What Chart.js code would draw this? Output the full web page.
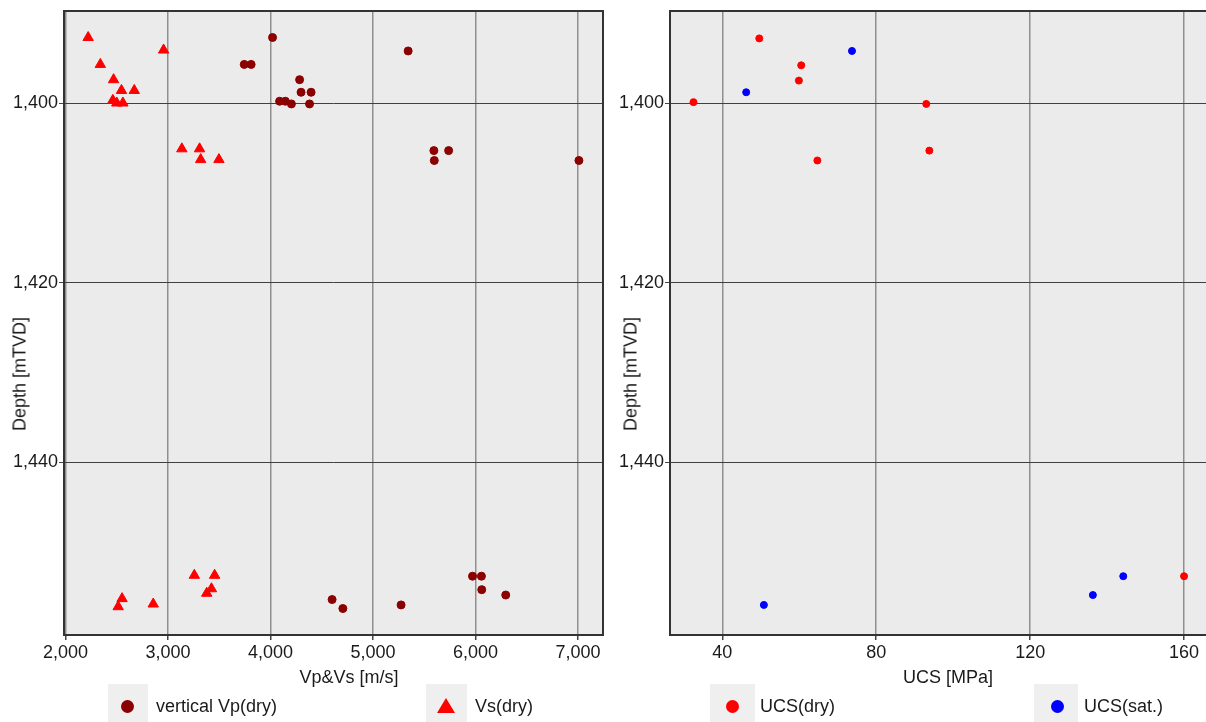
<!DOCTYPE html>
<html>
<head>
<meta charset="utf-8">
<script src="https://cdn.jsdelivr.net/npm/chart.js@4.4.1/dist/chart.umd.min.js"></script>
<style>
  html, body { margin: 0; padding: 0; background: #fff; overflow: hidden; width: 1206px; height: 722px; }
  body { position: relative; font-family: "Liberation Sans", Arial, sans-serif; color: #1a1a1a; }
  .box { position: absolute; }
  .ytitle { position: absolute; font-size: 18px; transform: translate(-50%, -50%) rotate(-90deg); white-space: nowrap; }
  .xtitle { position: absolute; font-size: 18px; transform: translate(-50%, -50%); white-space: nowrap; }
  .lgbox { position: absolute; top: 684px; height: 40px; background: #efefef; }
  .lgtext { position: absolute; font-size: 18px; top: 706px; transform: translateY(-50%); white-space: nowrap; }
  .dot { position: absolute; width: 13px; height: 13px; border-radius: 50%; top: 700px; }
  .tri { position: absolute; width: 0; height: 0; border-left: 9px solid transparent; border-right: 9px solid transparent; border-bottom: 15px solid #ff0000; top: 698px; }
</style>
</head>
<body>
<div class="box" style="left:0;top:0;width:606px;height:722px;"><canvas id="vel"></canvas></div>
<div class="box" style="left:606px;top:0;width:625px;height:722px;"><canvas id="ucs"></canvas></div>

<div class="ytitle" style="left:20px;top:374px;">Depth [mTVD]</div>
<div class="ytitle" style="left:631px;top:374px;">Depth [mTVD]</div>
<div class="xtitle" style="left:349px;top:677px;">Vp&amp;Vs [m/s]</div>
<div class="xtitle" style="left:948px;top:677px;">UCS [MPa]</div>

<div class="lgbox" style="left:108px;width:40px;"></div>
<div class="dot" style="left:121px;background:#8b0000;"></div>
<div class="lgtext" style="left:156px;">vertical Vp(dry)</div>
<div class="lgbox" style="left:426px;width:41px;"></div>
<div class="tri" style="left:437px;"></div>
<div class="lgtext" style="left:475px;">Vs(dry)</div>

<div class="lgbox" style="left:710px;width:45px;"></div>
<div class="dot" style="left:726px;background:#ff0000;"></div>
<div class="lgtext" style="left:760px;">UCS(dry)</div>
<div class="lgbox" style="left:1034px;width:44px;"></div>
<div class="dot" style="left:1051px;background:#0000ff;"></div>
<div class="lgtext" style="left:1084px;">UCS(sat.)</div>

<script>
// vertical Vp (dry) [m/s] and depth [mTVD]
let vpVel   = [4020, 3744, 3811, 5343, 4284, 4298, 4396, 4089, 4145, 4204, 4381,
               5594, 5738, 5598, 7009,
               5971, 6058, 6061, 6295, 4601, 4706, 5274];
let vpDepth = [1392.7, 1395.7, 1395.7, 1394.2, 1397.4, 1398.8, 1398.8, 1399.8, 1399.8, 1400.1, 1400.1,
               1405.3, 1405.3, 1406.4, 1406.4,
               1452.7, 1452.7, 1454.2, 1454.8, 1455.3, 1456.3, 1455.9];
// Vs (dry)
let vsVel   = [2221, 2957, 2340, 2469, 2546, 2671, 2462, 2500, 2560,
               3135, 3308, 3319, 3497,
               3257, 3455, 3424, 3378, 2552, 2514, 2856];
let vsDepth = [1392.7, 1394.1, 1395.7, 1397.4, 1398.6, 1398.6, 1399.7, 1400.0, 1400.0,
               1405.1, 1405.1, 1406.3, 1406.3,
               1452.6, 1452.6, 1454.1, 1454.6, 1455.2, 1456.1, 1455.8];
// UCS [MPa]
let ucsDry      = [49.6, 60.5, 59.9, 32.5, 93.0, 93.8, 64.7, 160.0];
let ucsDryDepth = [1392.8, 1395.8, 1397.5, 1399.9, 1400.1, 1405.3, 1406.4, 1452.7];
let ucsSat      = [73.7, 46.2, 144.2, 136.3, 50.8];
let ucsSatDepth = [1394.2, 1398.8, 1452.7, 1454.8, 1455.9];

// tick values
let velTicks   = [2000, 3000, 4000, 5000, 6000, 7000];
let ucsTicks   = [40, 80, 120, 160];
let depthTicks = [1400, 1420, 1440];

let depthMin = 1389.75, depthMax = 1459.25;

function pts(xs, ys) { return xs.map((x, i) => ({x: x, y: ys[i]})); }

const frame = {
  id: 'frame',
  beforeDraw(chart) {
    const a = chart.chartArea, ctx = chart.ctx;
    ctx.save();
    ctx.fillStyle = '#ebebeb';
    ctx.fillRect(a.left, a.top, a.right - a.left, a.bottom - a.top);
    ctx.restore();
  },
  afterDatasetsDraw(chart) {
    const a = chart.chartArea, ctx = chart.ctx;
    ctx.save();
    ctx.strokeStyle = '#333';
    ctx.lineWidth = 2;
    ctx.strokeRect(a.left, a.top, a.right - a.left, a.bottom - a.top);
    ctx.restore();
  }
};

Chart.defaults.font.family = '"Liberation Sans", Arial, sans-serif';
Chart.defaults.font.size = 18;
Chart.defaults.color = '#1a1a1a';

function makeOpts(xmin, xmax, xticks) {
  return {
    responsive: true,
    maintainAspectRatio: false,
    animation: false,
    layout: { autoPadding: false, padding: { top: 11, right: 3, left: 0, bottom: 0 } },
    plugins: { legend: { display: false }, tooltip: { enabled: false } },
    scales: {
      x: {
        type: 'linear',
        min: xmin, max: xmax,
        afterBuildTicks: s => { s.ticks = xticks.map(v => ({value: v})); },
        ticks: { padding: 2 },
        grid: { color: '#8f8f8f', lineWidth: 1.5, tickColor: '#444', tickLength: 5 },
        border: { display: false },
        afterFit: s => { s.height = 87; s.paddingLeft = 0; s.paddingRight = 0; }
      },
      y: {
        type: 'linear',
        reverse: true,
        min: depthMin, max: depthMax,
        afterBuildTicks: s => { s.ticks = depthTicks.map(v => ({value: v})); },
        ticks: { padding: 1 },
        grid: { color: '#404040', lineWidth: 1, tickColor: '#444', tickLength: 5 },
        border: { display: false },
        afterFit: s => { s.width = 64; s.paddingTop = 0; s.paddingBottom = 0; }
      }
    }
  };
}

new Chart(document.getElementById('vel'), {
  type: 'scatter',
  data: {
    datasets: [{
      label: 'vertical Vp(dry)',
      data: pts(vpVel, vpDepth),
      pointStyle: 'circle',
      pointRadius: 4,
      backgroundColor: '#8b0000',
      borderColor: '#8b0000',
      borderWidth: 1
    }, {
      label: 'Vs(dry)',
      data: pts(vsVel, vsDepth),
      pointStyle: 'triangle',
      pointRadius: 6,
      backgroundColor: '#ff0000',
      borderColor: '#ff0000',
      borderWidth: 1
    }]
  },
  options: makeOpts(1985.4, 7244, velTicks),
  plugins: [frame]
});

let ucsOpts = makeOpts(26.4, 170.9, ucsTicks);
ucsOpts.layout.padding.right = 5;
new Chart(document.getElementById('ucs'), {
  type: 'scatter',
  data: {
    datasets: [{
      label: 'UCS(dry)',
      data: pts(ucsDry, ucsDryDepth),
      pointStyle: 'circle',
      pointRadius: 3.5,
      backgroundColor: '#ff0000',
      borderColor: '#ff0000',
      borderWidth: 1
    }, {
      label: 'UCS(sat.)',
      data: pts(ucsSat, ucsSatDepth),
      pointStyle: 'circle',
      pointRadius: 3.5,
      backgroundColor: '#0000ff',
      borderColor: '#0000ff',
      borderWidth: 1
    }]
  },
  options: ucsOpts,
  plugins: [frame]
});
</script>
</body>
</html>
